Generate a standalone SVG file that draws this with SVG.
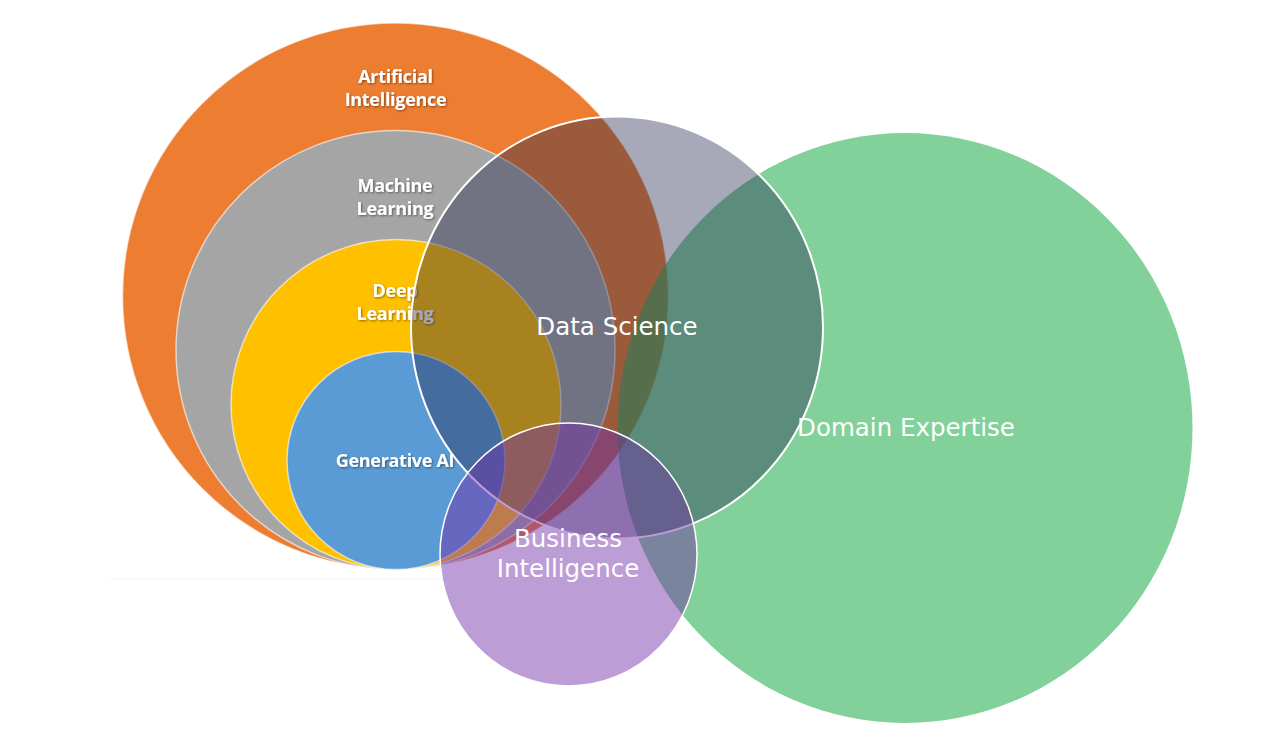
<svg xmlns="http://www.w3.org/2000/svg" width="1266" height="738" viewBox="0 0 1266 738">
  <defs>
    <filter id="softShadow" x="-20%" y="-40%" width="140%" height="180%">
      <feDropShadow dx="1" dy="1" stdDeviation="1" flood-color="#000000" flood-opacity="0.45"/>
    </filter>
    <style>
      .ring { stroke: #ffffff; stroke-opacity: 0.6; stroke-width: 1.5; }
      .ai { fill: #ed7d31; }
      .ml { fill: #a5a5a5; }
      .dl { fill: #ffc000; }
      .gen { fill: #5b9bd5; }
      .inner-label { font-family: "Open Sans", "Liberation Sans", sans-serif; font-weight: 700; font-size: 18px; fill: #ffffff; text-anchor: middle; filter: url(#softShadow); letter-spacing: -0.3px; }
      .venn-label { font-family: "DejaVu Sans", "Liberation Sans", sans-serif; font-size: 24.5px; fill: #ffffff; text-anchor: middle; }
    </style>
  </defs>

  <rect width="1266" height="738" fill="#ffffff"/>

  <!-- nested AI hierarchy -->
  <g id="nested">
    <line x1="110" y1="579" x2="445" y2="579" stroke="#f2f2f2" stroke-width="1"/>
    <g id="artificial-intelligence">
      <circle class="ai ring" cx="395.5" cy="296" r="273"/>
      <text class="inner-label" x="395.5" y="83">Artificial</text>
      <text class="inner-label" x="395.5" y="106">Intelligence</text>
    </g>
    <g id="machine-learning">
      <circle class="ml ring" cx="395.5" cy="350" r="219.5"/>
      <text class="inner-label" x="395" y="192">Machine</text>
      <text class="inner-label" x="395" y="215">Learning</text>
    </g>
    <g id="deep-learning">
      <circle class="dl ring" cx="396" cy="404.5" r="165"/>
      <text class="inner-label" x="395" y="297">Deep</text>
      <text class="inner-label" x="395" y="320">Learning</text>
    </g>
    <g id="generative-ai">
      <circle class="gen ring" cx="396" cy="460.5" r="109"/>
      <text class="inner-label" x="395" y="467">Generative AI</text>
    </g>
  </g>

  <!-- overlapping fields -->
  <g id="domain-expertise">
    <ellipse cx="905" cy="428" rx="287.5" ry="295" fill="#35b35c" fill-opacity="0.62"/>
  </g>
  <g id="data-science">
    <ellipse cx="617" cy="327.5" rx="206" ry="211" fill="#22254d" fill-opacity="0.4" stroke="#ffffff" stroke-width="2"/>
  </g>
  <g id="business-intelligence">
    <ellipse cx="568.5" cy="554.5" rx="128.5" ry="131.5" fill="#732fa6" fill-opacity="0.47" stroke="#ffffff" stroke-width="1.5"/>
  </g>

  <g id="labels">
    <text class="venn-label" x="617" y="335">Data Science</text>
    <text class="venn-label" x="906" y="436">Domain Expertise</text>
    <text class="venn-label" x="568" y="547">Business</text>
    <text class="venn-label" x="568" y="577">Intelligence</text>
  </g>

  <!-- no connectors in this diagram -->
  <g id="connectors"/>
</svg>
